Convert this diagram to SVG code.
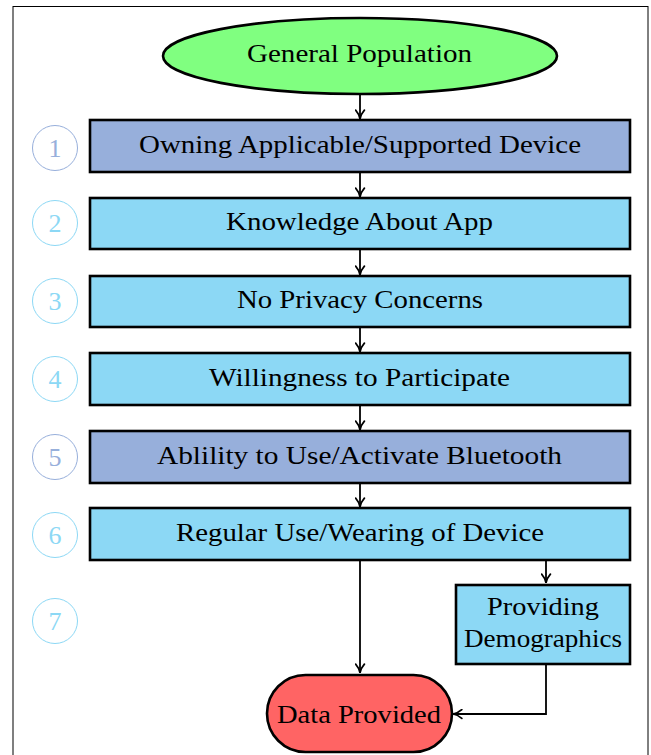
<svg xmlns="http://www.w3.org/2000/svg" width="651" height="755" viewBox="0 0 651 755">
<defs>
<style>
text{font-family:"Liberation Serif","DejaVu Serif",serif;font-size:26px;fill:#000;text-anchor:middle}
.box{stroke:#000;stroke-width:2.6}
.dark{fill:#97AFDB}
.light{fill:#8CD8F5}
.c1{fill:none;stroke:#97AFDB;stroke-width:1}
.c2{fill:none;stroke:#8CD8F5;stroke-width:1}
.t1{fill:#97AFDB}
.t2{fill:#8CD8F5}
.edge{fill:none;stroke:#000;stroke-width:1.8}
</style>
<marker id="ah" viewBox="0 0 10 10" refX="9" refY="5" markerWidth="11" markerHeight="11" markerUnits="userSpaceOnUse" orient="auto">
<path d="M1,1 Q5,4.5 9,5 Q5,5.5 1,9" fill="none" stroke="#000" stroke-width="1.6" stroke-linecap="round"/>
</marker>
</defs>
<rect x="13" y="6.5" width="635" height="760" fill="#fff" stroke="#000" stroke-width="1"/>
<g id="connectors">
<path class="edge" d="M360,95 V119" marker-end="url(#ah)"/>
<path class="edge" d="M360,172 V197" marker-end="url(#ah)"/>
<path class="edge" d="M360,250 V275" marker-end="url(#ah)"/>
<path class="edge" d="M360,327 V352" marker-end="url(#ah)"/>
<path class="edge" d="M360,405 V430" marker-end="url(#ah)"/>
<path class="edge" d="M360,483 V507" marker-end="url(#ah)"/>
<path class="edge" d="M360,561 V673" marker-end="url(#ah)"/>
<path class="edge" d="M546,561 V583" marker-end="url(#ah)"/>
<path class="edge" d="M546,665 V714 H453" marker-end="url(#ah)"/>
</g>
<g id="n0"><ellipse cx="360" cy="56" rx="197" ry="38" fill="#80FF80" class="box"/><text x="359.5" y="62" textLength="225" lengthAdjust="spacingAndGlyphs">General Population</text></g>
<g id="n1"><rect x="90" y="120" width="540" height="52" class="box dark"/><text x="360" y="152.5" textLength="442" lengthAdjust="spacingAndGlyphs">Owning Applicable/Supported Device</text></g>
<g id="n2"><rect x="90" y="198" width="540" height="51" class="box light"/><text x="359.5" y="230" textLength="267" lengthAdjust="spacingAndGlyphs">Knowledge About App</text></g>
<g id="n3"><rect x="90" y="276" width="540" height="51" class="box light"/><text x="360" y="308" textLength="246" lengthAdjust="spacingAndGlyphs">No Privacy Concerns</text></g>
<g id="n4"><rect x="90" y="353" width="540" height="52" class="box light"/><text x="359.5" y="385.5" textLength="301" lengthAdjust="spacingAndGlyphs">Willingness to Participate</text></g>
<g id="n5"><rect x="90" y="431" width="540" height="52" class="box dark"/><text x="359.5" y="463.5" textLength="405" lengthAdjust="spacingAndGlyphs">Ablility to Use/Activate Bluetooth</text></g>
<g id="n6"><rect x="90" y="508" width="540" height="52" class="box light"/><text x="360" y="540.5" textLength="368" lengthAdjust="spacingAndGlyphs">Regular Use/Wearing of Device</text></g>
<g id="n7"><rect x="456" y="585" width="174" height="79" class="box light"/><text x="543" y="615" textLength="112" lengthAdjust="spacingAndGlyphs">Providing</text><text x="543" y="646.5" textLength="158" lengthAdjust="spacingAndGlyphs">Demographics</text></g>
<g id="n8"><rect x="267" y="675" width="185" height="77" rx="38.5" fill="#FF6464" class="box"/><text x="359" y="722.5" textLength="164" lengthAdjust="spacingAndGlyphs">Data Provided</text></g>
<g id="step1"><circle cx="55" cy="148" r="22.5" class="c1"/><text x="55" y="156.5" class="t1">1</text></g>
<g id="step2"><circle cx="55" cy="223" r="22.5" class="c2"/><text x="55" y="231.5" class="t2">2</text></g>
<g id="step3"><circle cx="55" cy="301" r="22.5" class="c2"/><text x="55" y="309.5" class="t2">3</text></g>
<g id="step4"><circle cx="55" cy="379" r="22.5" class="c2"/><text x="55" y="387.5" class="t2">4</text></g>
<g id="step5"><circle cx="55" cy="457" r="22.5" class="c1"/><text x="55" y="465.5" class="t1">5</text></g>
<g id="step6"><circle cx="55" cy="535" r="22.5" class="c2"/><text x="55" y="543.5" class="t2">6</text></g>
<g id="step7"><circle cx="55" cy="621" r="22.5" class="c2"/><text x="55" y="629.5" class="t2">7</text></g>
</svg>
